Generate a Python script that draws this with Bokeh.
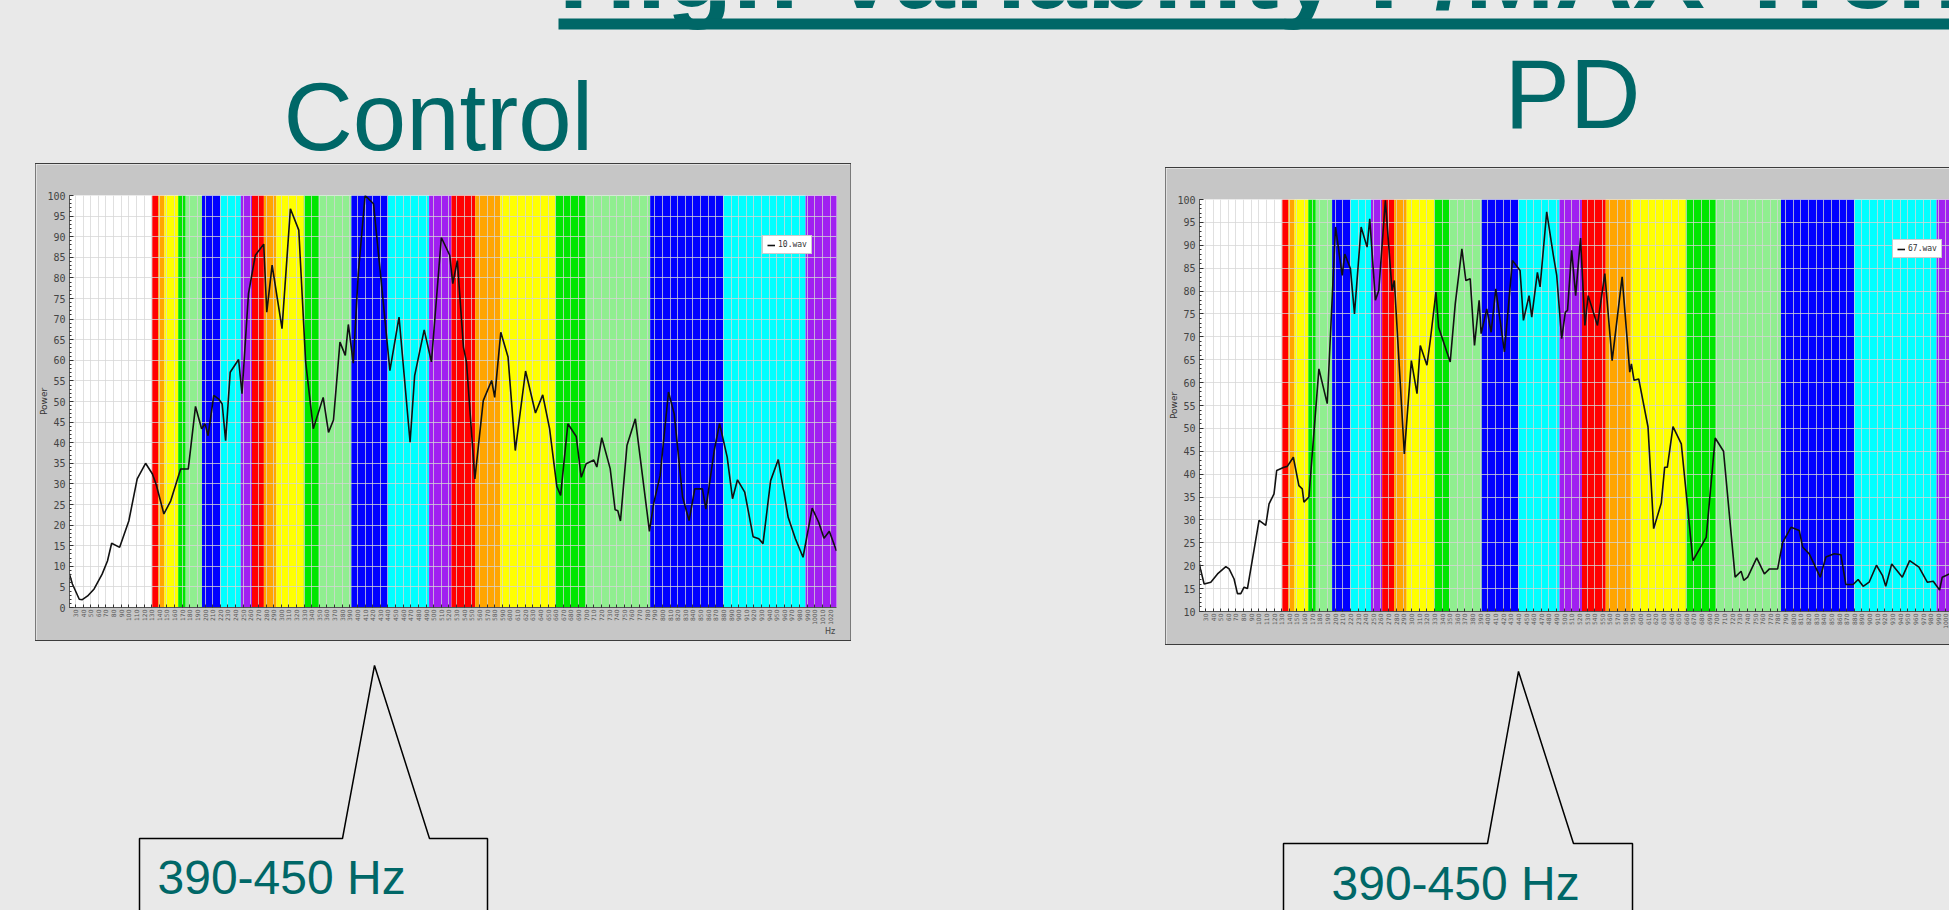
import math
from bokeh.plotting import figure
from bokeh.layouts import column, row
from bokeh.models import (Spacer, Range1d, FixedTicker, SingleIntervalTicker, LinearAxis,
                          ColumnDataSource)
from bokeh.core.properties import value
from bokeh.embed import file_html
from bokeh.resources import INLINE

# ---------------- data ----------------
title_text = "High Variability F/MAX Trends"
group_names = ["Control", "PD"]
callout_text = "390-450 Hz"
legend_names = ["10.wav", "67.wav"]

# note band edges (Hz), C3 .. C6, colour per note within each octave
band_edges = [130.8, 138.6, 146.8, 164.8, 174.6, 196.0, 220.0, 246.9,
              261.6, 277.2, 293.7, 329.6, 349.2, 392.0, 440.0, 493.9,
              523.3, 554.4, 587.3, 659.3, 698.5, 784.0, 880.0, 987.8, 1046.5]
octave_colors = ["#ff0000", "#ffa500", "#ffff00", "#00e600",
                 "#90ee90", "#0000ff", "#00ffff", "#a020f0"]

x_ticks = list(range(20, 1030, 10))

control_freq = [21.8, 26, 35, 39, 46, 54.5, 65, 72, 77.5, 88, 100, 111, 122, 131, 136, 146,
                155, 168, 178, 187.5, 195.5, 200, 204, 211.5, 218, 222.5, 227, 233, 244,
                248.5, 257, 266, 277, 281, 288, 301, 312, 323, 332, 342, 355, 362, 368.5,
                377, 384, 388, 394.5, 401, 410, 421, 431, 442.5, 454.5, 469, 475, 487.5,
                497, 510, 521, 525, 531, 539, 543, 554, 565, 576, 580, 588, 597.5, 607,
                620.5, 633.5, 643, 652, 661.5, 666.5, 676, 687, 693.5, 700, 710, 714,
                720.5, 731.5, 738, 741.5, 745, 753.5, 764.5, 783, 788.5, 797, 808, 815.5,
                826.5, 835, 842.5, 852.5, 857, 868, 875, 885, 892, 898.5, 908, 919, 926.5,
                932, 942, 952, 965, 974.5, 984.5, 996.5, 1005, 1012, 1019, 1028.4]
control_power = [8.3, 5.7, 2.0, 1.9, 2.8, 4.5, 8.1, 11.3, 15.6, 14.6, 21.0, 31.2, 35.0, 32.4,
                 29.8, 22.7, 25.9, 33.6, 33.6, 48.8, 43.4, 44.6, 41.7, 51.5, 50.6, 49.4, 40.5,
                 57.1, 60.2, 51.9, 76.2, 85.5, 88.2, 71.7, 83.1, 67.7, 96.8, 91.6, 59.6, 43.4,
                 51.0, 42.5, 45.5, 64.4, 61.2, 68.7, 59.3, 81.0, 100.0, 98.0, 79.4, 57.5, 70.5,
                 40.1, 56.3, 67.4, 59.6, 89.8, 85.5, 78.6, 84.2, 63.2, 59.5, 31.2, 50.2, 55.1,
                 51.0, 66.8, 60.8, 38.1, 57.4, 47.2, 51.6, 43.4, 29.4, 27.2, 44.6, 41.5, 31.6,
                 34.9, 35.8, 34.1, 41.2, 33.7, 23.7, 23.5, 21.0, 39.3, 45.8, 18.5, 25.2, 32.0,
                 52.3, 47.0, 26.8, 21.1, 28.8, 28.8, 23.9, 38.1, 44.7, 36.5, 26.4, 31.0, 28.0,
                 17.2, 16.7, 15.5, 30.8, 35.9, 21.9, 16.7, 12.2, 24.1, 20.7, 16.8, 18.5, 13.7]

pd_freq = [21.1, 23.5, 28.4, 37.1, 45.9, 56.8, 61.1, 67.6, 72.0, 76.4, 80.7, 85.1, 100.3,
           109.1, 113.4, 119.9, 123.4, 133.0, 137.3, 145.2, 152.5, 156.9, 159.1, 165.6,
           178.7, 189.6, 200.5, 209.2, 212.6, 220.0, 225.3, 234.0, 241.8, 245.3, 252.7,
           257.1, 265.8, 274.5, 277.5, 290.6, 299.8, 307.2, 311.5, 320.2, 324.6, 332.0,
           335.5, 350.7, 357.3, 366.0, 371.2, 376.9, 382.5, 388.6, 391.2, 398.6, 404.3,
           410.4, 421.7, 432.2, 442.2, 446.6, 454.0, 457.5, 464.9, 468.4, 477.1, 485.8,
           490.2, 496.7, 501.5, 504.4, 509.8, 515.0, 521.4, 527.1, 531.4, 543.6, 553.2,
           562.8, 575.9, 585.9, 588.0, 591.5, 597.6, 609.8, 617.2, 627.2, 631.6, 635.1,
           642.5, 653.4, 668.6, 686.0, 697.8, 708.7, 723.9, 731.7, 735.2, 740.4, 752.2,
           762.2, 768.8, 779.6, 786.2, 797.1, 807.9, 812.3, 821.0, 835.4, 842.8, 853.7,
           862.4, 868.9, 878.5, 885.0, 891.6, 899.4, 909.0, 916.8, 921.2, 929.0, 942.9,
           952.5, 964.7, 975.6, 983.4, 991.7, 995.2, 1004.8]
pd_power = [21.3, 19.3, 16.0, 16.4, 18.2, 19.8, 19.3, 17.1, 13.9, 13.9, 15.3, 15.0, 29.9,
            28.8, 33.5, 35.7, 40.8, 41.5, 41.7, 43.7, 37.5, 36.8, 33.9, 35.0, 63.0, 55.4,
            94.0, 83.4, 88.1, 84.9, 75.0, 94.0, 89.6, 95.8, 78.0, 80.1, 99.8, 80.1, 82.3,
            44.4, 64.8, 57.6, 68.1, 63.8, 69.2, 79.8, 72.1, 64.5, 77.2, 89.2, 82.3, 82.7,
            68.1, 78.0, 70.7, 76.1, 71.0, 80.5, 66.7, 86.7, 84.5, 73.6, 79.0, 74.3, 84.1,
            80.9, 97.3, 87.8, 83.4, 69.6, 75.4, 75.8, 88.9, 79.0, 91.6, 72.5, 79.0, 72.5,
            83.8, 64.8, 83.1, 62.3, 64.1, 60.5, 60.8, 50.3, 28.1, 33.7, 41.5, 41.5, 50.4,
            46.6, 21.1, 26.2, 47.9, 45.0, 17.5, 18.8, 16.8, 17.5, 21.7, 18.2, 19.3, 19.3,
            25.1, 28.4, 27.7, 24.1, 22.6, 17.5, 21.9, 22.6, 22.4, 15.9, 15.9, 17.0, 15.5,
            16.4, 20.1, 17.9, 15.5, 20.4, 17.5, 21.1, 19.7, 16.4, 16.6, 14.7, 17.5, 18.2]

# ---------------- styles ----------------
TEAL = "#006767"
SLIDE_BG = "#e9e9e9"
BOX_BG = "#c6c6c6"
FONT = "Liberation Sans"
DARK = {"background-color": "#3c3c3c"}
MID = {"background-color": "#7a7a7a"}


def chart(freq, power, name, width, x_start, x_end, y_start, right_border, hz_tick):
    p = figure(width=width, height=476, x_range=Range1d(x_start, x_end),
               y_range=Range1d(y_start, 100), toolbar_location=None, output_backend="svg",
               min_border_left=31, min_border_right=right_border,
               min_border_top=31, min_border_bottom=33)
    p.border_fill_color = BOX_BG
    p.background_fill_color = "white"
    p.outline_line_color = None

    nb = len(band_edges) - 1
    bands = ColumnDataSource(dict(left=band_edges[:-1], right=band_edges[1:],
                                  color=[octave_colors[i % 8] for i in range(nb)]))
    p.quad(left="left", right="right", bottom=y_start, top=100, fill_color="color",
           line_color=None, source=bands, level="image")

    p.line(freq, power, line_color="#111111", line_width=1.6, legend_label=name)

    p.xaxis.ticker = FixedTicker(ticks=x_ticks)
    p.xgrid.ticker = FixedTicker(ticks=x_ticks)
    p.xaxis.major_label_orientation = math.pi / 2
    p.xaxis.major_label_text_font = "DejaVu Sans"
    p.xaxis.major_label_text_font_size = "6px"
    p.xaxis.major_label_text_color = "#555555"
    p.xaxis.major_label_standoff = 2
    p.xaxis.major_tick_in = 3
    p.xaxis.major_tick_out = 0
    p.xaxis.axis_line_color = "#555555"
    p.xaxis.major_tick_line_color = "#333333"

    p.yaxis.ticker = SingleIntervalTicker(interval=5, num_minor_ticks=5)
    p.yaxis.major_label_text_font = "DejaVu Sans Mono"
    p.yaxis.major_label_text_font_size = "10px"
    p.yaxis.major_label_text_color = "#444444"
    p.yaxis.major_label_standoff = 4
    p.yaxis.major_tick_in = 4
    p.yaxis.major_tick_out = 0
    p.yaxis.minor_tick_in = 2
    p.yaxis.minor_tick_out = 0
    p.yaxis.axis_line_color = "#555555"
    p.yaxis.major_tick_line_color = "#333333"
    p.yaxis.minor_tick_line_color = "#333333"
    p.yaxis.axis_label = "Power"
    p.yaxis.axis_label_text_font = "DejaVu Sans"
    p.yaxis.axis_label_text_font_size = "9px"
    p.yaxis.axis_label_text_font_style = "normal"
    p.yaxis.axis_label_text_color = "#333333"
    p.yaxis.axis_label_standoff = -5

    p.grid.grid_line_color = "#d6d6d6"
    p.grid.grid_line_alpha = 0.75

    lg = p.legend[0]
    lg.location = (693, 353)
    lg.label_text_font = "DejaVu Sans Mono"
    lg.label_text_font_size = "8px"
    lg.label_text_color = "#333333"
    lg.glyph_width = 8
    lg.glyph_height = 8
    lg.label_height = 8
    lg.label_standoff = 3
    lg.padding = 4
    lg.spacing = 0
    lg.margin = 0
    lg.border_line_color = "#9a9a9a"
    lg.background_fill_color = "white"
    lg.background_fill_alpha = 1.0

    if hz_tick is not None:
        hz_axis = LinearAxis(ticker=FixedTicker(ticks=[hz_tick]),
                             major_label_overrides={hz_tick: "Hz"},
                             axis_line_color=None, major_tick_line_color=None,
                             minor_tick_line_color=None, major_label_standoff=-7,
                             major_label_text_font="DejaVu Sans",
                             major_label_text_font_size="8px",
                             major_label_text_color="#444444")
        p.add_layout(hz_axis, "below")
    return p


def slide_canvas(width, height, y_top, y_bottom):
    f = figure(width=width, height=height, x_range=Range1d(0, width),
               y_range=Range1d(y_bottom, y_top), toolbar_location=None,
               output_backend="svg", x_axis_location=None, y_axis_location=None,
               min_border=0)
    f.xgrid.visible = False
    f.ygrid.visible = False
    f.outline_line_color = None
    f.background_fill_color = SLIDE_BG
    f.border_fill_color = SLIDE_BG
    return f


def em_mid(baseline, size):
    # y of the text's middle for a given baseline and font size (flipped axis)
    return baseline - 0.35 * size


# header: title + group names
hdr = slide_canvas(1949, 163, 0, 163)
hdr.text(x=[558], y=[em_mid(8, 108)], text=[title_text], text_font=value(FONT),
         text_font_style="bold", text_font_size="108px", text_color=TEAL,
         text_baseline="middle")
hdr.quad(left=[558], right=[1949], top=[18], bottom=[29], fill_color=TEAL, line_color=None)
hdr.text(x=[283], y=[em_mid(150, 96)], text=[group_names[0]], text_font=value(FONT),
         text_font_size="96px", text_color=TEAL, text_baseline="middle")
hdr.text(x=[1504], y=[em_mid(128, 98)], text=[group_names[1]], text_font=value(FONT),
         text_font_size="98px", text_color=TEAL, text_baseline="middle")

# charts (1px bevel borders round each grey box)
left = chart(control_freq, control_power, legend_names[0], 814, 22.2, 1028.4, 0, 14, 1020)
right = chart(pd_freq, pd_power, legend_names[1], 783, 22.3, 1004.7, 10, 0, None)

left_box = column(Spacer(width=816, height=1, styles=DARK),
                  row(Spacer(width=1, height=476, styles=MID), left,
                      Spacer(width=1, height=476, styles=MID)),
                  Spacer(width=816, height=1, styles=DARK),
                  Spacer(width=816, height=4))
right_box = column(Spacer(width=784, height=4),
                   Spacer(width=784, height=1, styles=DARK),
                   row(Spacer(width=1, height=476, styles=MID), right),
                   Spacer(width=784, height=1, styles=DARK))

mid = row(Spacer(width=35, height=482), left_box, Spacer(width=314, height=482), right_box)

# footer: callouts
ftr = slide_canvas(1949, 265, 645, 910)
ftr.line(x=[139, 139, 342, 374, 429, 487, 487], y=[915, 838, 838, 665, 838, 838, 915],
         line_color="black", line_width=1.5)
ftr.line(x=[1283, 1283, 1487, 1518, 1573, 1632, 1632], y=[915, 843, 843, 671, 843, 843, 915],
         line_color="black", line_width=1.5)
ftr.text(x=[157], y=[em_mid(894, 48)], text=[callout_text], text_font=value(FONT),
         text_font_size="48px", text_color=TEAL, text_baseline="middle")
ftr.text(x=[1331], y=[em_mid(900, 48)], text=[callout_text], text_font=value(FONT),
         text_font_size="48px", text_color=TEAL, text_baseline="middle")

page = column(hdr, mid, ftr)

html = file_html(page, INLINE, title="High Variability F/MAX Trends")
html = html.replace("</head>",
                    "<style>html,body{margin:0;padding:0;background:%s;overflow:hidden}</style></head>" % SLIDE_BG, 1)
open("out.html", "w").write(html)
